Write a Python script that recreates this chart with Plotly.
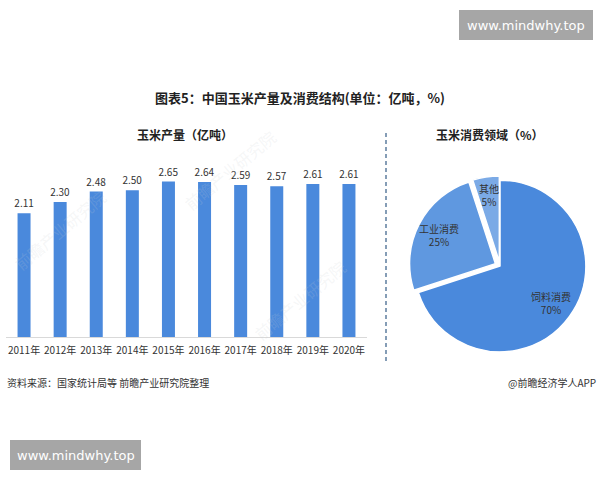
import math
import plotly.graph_objects as go

years = ["2011年", "2012年", "2013年", "2014年", "2015年", "2016年", "2017年", "2018年", "2019年", "2020年"]
output = [2.11, 2.30, 2.48, 2.50, 2.65, 2.64, 2.59, 2.57, 2.61, 2.61]
output_text = ["2.11", "2.30", "2.48", "2.50", "2.65", "2.64", "2.59", "2.57", "2.61", "2.61"]

uses = ["饲料消费", "工业消费", "其他"]
use_share = [70, 25, 5]
use_colors = ["#4A89DC", "#5F98E0", "#7BAAE6"]
use_pull = [0, 0.06, 0.05]

W, H = 600, 480
def px(x):
    return x / W
def py(y):
    return 1 - y / H

FONT = "Noto Sans CJK SC"

fig = go.Figure()

fig.add_trace(go.Bar(
    x=years, y=output, text=output_text, textposition="outside",
    textfont=dict(size=10, color="#333333", family=FONT),
    constraintext="none",
    marker=dict(color="#4A89DC", line=dict(width=0)),
    cliponaxis=False, xaxis="x", yaxis="y", showlegend=False,
))

# pie geometry (domain in pixels)
PIE_X0, PIE_X1, PIE_Y0, PIE_Y1 = 409, 591, 175, 357
fig.add_trace(go.Pie(
    labels=uses, values=use_share, sort=False, direction="clockwise", rotation=0,
    marker=dict(colors=use_colors, line=dict(color="white", width=1.5)),
    pull=use_pull, textinfo="none",
    domain=dict(x=[px(PIE_X0), px(PIE_X1)], y=[py(PIE_Y1), py(PIE_Y0)]),
    showlegend=False, hoverinfo="label+percent",
))

def note(x, y, text, size, color="#333333", family=FONT, xanchor="center", **kw):
    fig.add_annotation(x=px(x), y=py(y), xref="paper", yref="paper", showarrow=False,
                       text=text, xanchor=xanchor, yanchor="middle",
                       font=dict(size=size, color=color, family=family), **kw)

# slice labels placed at each slice's mid-angle (derived from the data)
cx = (PIE_X0 + PIE_X1) / 2
cy = (PIE_Y0 + PIE_Y1) / 2
r = (PIE_X1 - PIE_X0) / (2 * (1 + max(use_pull)))
total = sum(use_share)
cum = 0
label_rf = [0.73, 0.74, 0.79]
for lab, val, pl, rf in zip(uses, use_share, use_pull, label_rf):
    mid = (cum + val / 2) / total * 2 * math.pi
    cum += val
    dist = r * (rf + pl)
    lx = cx + dist * math.sin(mid)
    ly = cy - dist * math.cos(mid)
    note(lx, ly, f"{lab}<br>{val}%", 10, align="center")

fig.update_layout(
    width=W, height=H, margin=dict(l=0, r=0, t=0, b=0),
    paper_bgcolor="white", plot_bgcolor="white",
    font=dict(family=FONT, color="#333333"),
    bargap=0.64,
    xaxis=dict(domain=[px(6), px(367)], showgrid=False, showline=True, linecolor="#D9D9D9",
               linewidth=1, ticks="", ticklabelstandoff=4,
               tickfont=dict(size=10, color="#333333"), fixedrange=True),
    yaxis=dict(domain=[py(337), py(161)], range=[0, 3], visible=False, showgrid=False,
               zeroline=False),
)

# dashed divider
fig.add_shape(type="line", xref="paper", yref="paper", x0=px(386), x1=px(386),
              y0=py(133), y1=py(364), line=dict(color="#5E7E9E", width=1.5, dash="4px,3px"))

# faint background watermarks
for (wx, wy) in [(60, 230), (230, 170), (300, 300)]:
    note(wx, wy, "前瞻产业研究院", 16, color="rgba(200,205,210,0.18)", textangle=-40)

# watermark boxes
for (x0, y0, x1, y1) in [(459, 10, 593, 40), (10, 440, 141, 470)]:
    fig.add_shape(type="rect", xref="paper", yref="paper", x0=px(x0), x1=px(x1),
                  y0=py(y1), y1=py(y0), fillcolor="#A6A6A6", line=dict(width=0), layer="below")
    note((x0 + x1) / 2, (y0 + y1) / 2, "www.mindwhy.top", 13, color="white", family="DejaVu Sans")

note(300, 97, "<b>图表5：中国玉米产量及消费结构(单位：亿吨，%)</b>", 13, color="#222222")
note(185, 134, "<b>玉米产量（亿吨）</b>", 12, color="#222222")
note(490, 134, "<b>玉米消费领域（%）</b>", 12, color="#222222")
note(5, 382, "资料来源：国家统计局等 前瞻产业研究院整理", 10, xanchor="left")
note(598, 382, "@前瞻经济学人APP", 10, xanchor="right")

fig.write_html("out.html", config={"displayModeBar": False},
               post_script="document.body.style.margin='0px';")
